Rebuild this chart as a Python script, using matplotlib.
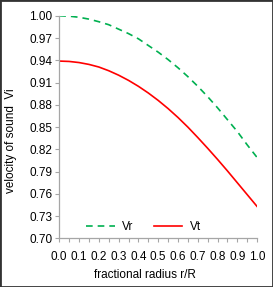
import numpy as np
import matplotlib.pyplot as plt
from matplotlib.ticker import MultipleLocator, FixedLocator

# fractional radius r/R
radius = [0.00, 0.05, 0.10, 0.15, 0.20, 0.25, 0.30, 0.35, 0.40, 0.45, 0.50,
          0.55, 0.60, 0.65, 0.70, 0.75, 0.80, 0.85, 0.90, 0.95, 1.00]

# velocity of sound, radial and tangential
vr = [1.000, 0.9995, 0.998, 0.9955, 0.992, 0.988, 0.982, 0.976, 0.969, 0.960, 0.951,
      0.941, 0.930, 0.918, 0.905, 0.891, 0.876, 0.860, 0.844, 0.826, 0.809]
vt = [0.939, 0.9385, 0.937, 0.9345, 0.931, 0.926, 0.920, 0.913, 0.905, 0.896, 0.886,
      0.875, 0.863, 0.850, 0.836, 0.8215, 0.8065, 0.791, 0.775, 0.759, 0.743]
yticks = [0.70, 0.73, 0.76, 0.79, 0.82, 0.85, 0.88, 0.91, 0.94, 0.97, 1.00]

plt.rcParams['font.family'] = ['Liberation Sans', 'DejaVu Sans']

fig = plt.figure(figsize=(2.73, 2.87), dpi=100)
ax = fig.add_axes([0.217, 0.169, 0.725, 0.776])

ax.plot(radius, vr, color='#00B050', lw=1.2, dashes=(4, 3), label='Vr')
ax.plot(radius, vt, color='#FF0000', lw=1.2, label='Vt')

ax.set_xlim(0, 1.0)
ax.set_ylim(0.70, 1.00)
ax.xaxis.set_major_locator(MultipleLocator(0.1))
ax.xaxis.set_minor_locator(MultipleLocator(0.05))
ax.yaxis.set_major_locator(FixedLocator(yticks))
ax.xaxis.set_major_formatter(lambda v, p: f"{v:.1f}")
ax.yaxis.set_major_formatter(lambda v, p: f"{v:.2f}")

for s in ['top', 'right']:
    ax.spines[s].set_visible(False)
for s in ['left', 'bottom']:
    ax.spines[s].set_color('#A6A6A6')
    ax.spines[s].set_linewidth(0.9)

ax.tick_params(which='both', direction='out', length=3, width=0.8,
               color='#A6A6A6', labelsize=8.5, labelcolor='#000000', pad=2)
ax.tick_params(axis='x', pad=6)

# labels sit a bit off-centre, as in the original
ax.set_xlabel('fractional radius r/R', fontsize=8.5)
ax.xaxis.set_label_coords(0.433, -0.138)
ax.set_ylabel('velocity of sound  Vi', fontsize=8.5)
ax.yaxis.set_label_coords(-0.212, 0.438)

ax.legend(loc='center', bbox_to_anchor=(0.426, 0.053), ncol=2, frameon=False,
          fontsize=8.5, handlelength=2.4, columnspacing=1.7, handletextpad=0.65,
          borderaxespad=0, borderpad=0)

fig.add_artist(plt.Rectangle((0, 0), 1, 1, transform=fig.transFigure,
                             fill=False, edgecolor='#333333', lw=2))

fig.savefig('out.png', dpi=100)
